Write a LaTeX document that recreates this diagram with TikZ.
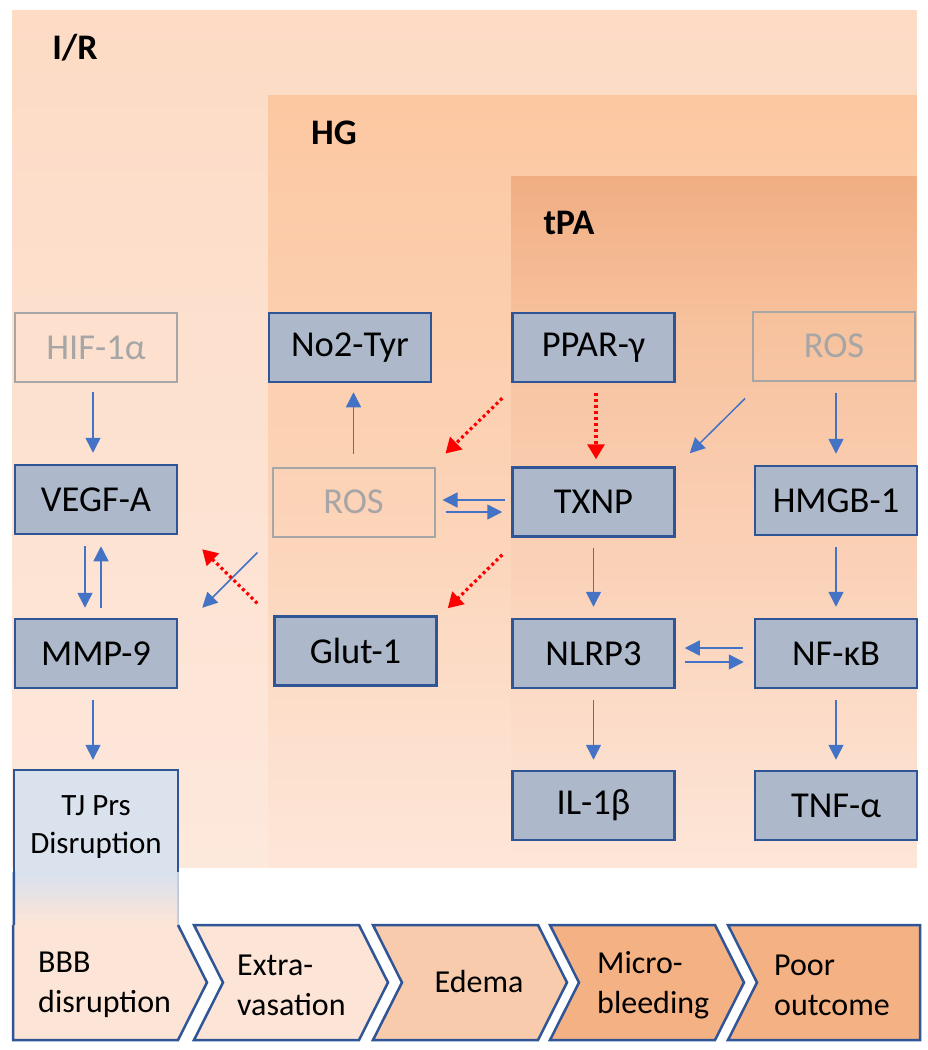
\documentclass[tikz,border=0pt]{standalone}
\usepackage{fontspec}
\setmainfont{Carlito}
\usetikzlibrary{arrows.meta,calc}
\definecolor{bbord}{HTML}{2F5597}
\definecolor{bfill}{HTML}{ADB9CA}
\definecolor{gbord}{HTML}{A6A6A6}
\definecolor{gtext}{HTML}{A6A6A6}
\definecolor{arblue}{HTML}{4472C4}
\definecolor{arred}{HTML}{FF0000}
\definecolor{irtop}{HTML}{FDDBC5}
\definecolor{irbot}{HTML}{FDE8DC}
\definecolor{hgtop}{HTML}{FCC8A2}
\definecolor{hgmid}{HTML}{FCD3B7}
\definecolor{hgbot}{HTML}{FDE6D8}
\definecolor{tpatop}{HTML}{F1AE83}
\definecolor{tpaA}{HTML}{F7C29E}
\definecolor{tpaB}{HTML}{FACDB1}
\definecolor{tpabot}{HTML}{FDE6D8}
\definecolor{tjfill}{HTML}{DAE2EE}
\definecolor{chA}{HTML}{FCE4D6}
\definecolor{chB}{HTML}{F8CBAD}
\definecolor{chC}{HTML}{F4B183}
% vertical gradient made of thin strips: x1,x2,y1,y2,topcolour,bottomcolour,strips
\newcommand\vgradfill[7]{%
  \foreach \k in {1,...,#7}{%
    \pgfmathsetmacro\pp{100-(\k-1)/(#7-1)*100}%
    \pgfmathsetmacro\ya{#3+(#4-#3)/#7*(\k-1)}%
    \pgfmathsetmacro\yb{min(#4,#3+(#4-#3)/#7*\k+0.7)}%
    \fill[#5!\pp!#6] (#1,\ya) rectangle (#2,\yb);
  }}
\begin{document}
\begin{tikzpicture}[x=1pt,y=-1pt,
  box/.style={draw=bbord,line width=2.5pt,fill=bfill,minimum width=162pt,minimum height=69pt,inner sep=0pt,font=\fontsize{36.5}{40}\selectfont},
  gbox/.style={draw=gbord,line width=2pt,minimum width=162pt,minimum height=69pt,inner sep=0pt,text=gtext,font=\fontsize{36.5}{40}\selectfont},
  arr/.style={draw=arblue,line width=1.5pt,-{Triangle[length=15pt,width=15pt]}},
  redarr/.style={draw=arred,line width=3.2pt,dash pattern=on 3pt off 3pt,-{Triangle[length=15pt,width=17pt]}},
  head/.style={font=\fontsize{36}{40}\selectfont\bfseries,inner sep=0pt},
  chev/.style={draw=bbord,line width=2.5pt,line join=miter},
  chtext/.style={font=\fontsize{32}{40}\selectfont,align=left,inner sep=0pt,anchor=west}
]
\useasboundingbox (0,0) rectangle (928,1050);
\fill[white] (0,0) rectangle (928,1050);
% backgrounds
\vgradfill{12}{917}{10}{868}{irtop}{irbot}{80}
\vgradfill{268}{917}{95}{500}{hgtop}{hgmid}{50}
\vgradfill{268}{917}{500}{868}{hgmid}{hgbot}{50}
\vgradfill{511}{917}{176}{330}{tpatop}{tpaA}{30}
\vgradfill{511}{917}{330}{500}{tpaA}{tpaB}{30}
\vgradfill{511}{917}{500}{868}{tpaB}{tpabot}{50}
\node[head] (ir) at (75,48) {I/R};
\node[head] (hg) at (334,133) {HG};
\node[head] (tpa) at (569,223) {tPA};

% boxes
\node[gbox] (hif) at (96,347.5) {HIF-1α};
\node[box] (no2) at (350,347.5) {No2-Tyr};
\node[box] (ppar) at (593.5,347.5) {PPAR-γ};
\node[gbox] (rost) at (834,346) {ROS};
\node[box] (vegf) at (96,499.5) {VEGF-A};
\node[gbox] (rosm) at (353.5,502) {ROS};
\node[box] (txnp) at (593.5,502) {TXNP};
\node[box] (hmgb) at (836,500.5) {HMGB-1};
\node[box] (mmp) at (96,653.5) {MMP-9};
\node[box] (glut) at (355.5,651) {Glut-1};
\node[box] (nlrp) at (593.5,653.5) {NLRP3};
\node[box] (nfkb) at (836,653.5) {NF-κB};
\node[box] (il1b) at (593.5,805.5) {IL-1β};
\node[box] (tnf) at (836,805.5) {TNF-α};

% TJ box
\vgradfill{14}{178}{872}{925}{tjfill}{chA}{20}
\node[fill=tjfill,inner sep=0pt,font=\fontsize{31}{38}\selectfont] (tj) at (96,821)
  {\parbox[c][102pt][c]{164pt}{\centering\vspace*{12pt}TJ Prs\\Disruption}};
\draw[bbord,line width=2.5pt] (tj.south west) -- (tj.north west) -- (tj.north east) -- (tj.south east);
\draw[bbord,line width=2.5pt] (tj.south west) -- (14,926);
\draw[bbord!50,line width=1pt] (tj.south east) -- (178,925);

% chevrons
\fill[chA] (13,925) -- (13,1040) -- (178,1040) -- (207,982.5) -- (178,925) -- cycle;
\draw[chev] (13,925) -- (13,1040) -- (178,1040) -- (207,982.5) -- (178,925);
\draw[chev,fill=chA] (194,925) -- (359,925) -- (388,982.5) -- (359,1040) -- (194,1040) -- (223,982.5) -- cycle;
\draw[chev,fill=chB] (373,925) -- (538,925) -- (567,982.5) -- (538,1040) -- (373,1040) -- (402,982.5) -- cycle;
\draw[chev,fill=chC] (550,925) -- (715,925) -- (744,982.5) -- (715,1040) -- (550,1040) -- (579,982.5) -- cycle;
\draw[chev,fill=chC] (728,925) -- (920,925) -- (920,1040) -- (728,1040) -- (757,982.5) -- cycle;
\node[chtext] (c1) at (38,985) {BBB\\disruption};
\node[chtext] (c2) at (237,985) {Extra-\\vasation};
\node[chtext,anchor=center] (c3) at (479,981) {Edema};
\node[chtext] (c4) at (597,985) {Micro-\\bleeding};
\node[chtext] (c5) at (774,985) {Poor\\outcome};

% blue arrows
\draw[arr,shorten <=9pt,shorten >=11pt] ([xshift=-3pt]hif.south) -- ([xshift=-3pt]vegf.north);
\draw[arr,shorten <=11pt,shorten >=10pt] ([xshift=-11pt]vegf.south) -- ([xshift=-11pt]mmp.north);
\draw[arr,shorten <=10pt,shorten >=11pt] ([xshift=5pt]mmp.north) -- ([xshift=5pt]vegf.south);
\draw[arr,shorten <=11pt,shorten >=10pt] ([xshift=-3pt]mmp.south) -- ([xshift=-3pt]tj.north);
\draw[arr,shorten <=13pt,shorten >=9pt] (rosm.north) -- (rosm.north |- no2.south);
\draw[arr,shorten <=6pt,shorten >=7pt] ([yshift=2pt]txnp.west) -- ([yshift=2pt]rosm.east);
\draw[arr,shorten <=10pt,shorten >=9pt] ([yshift=-10pt]rosm.east) -- ([yshift=-10pt]txnp.west);
\draw[arr] ([xshift=-14pt,yshift=-15pt]rosm.south west) -- ([xshift=24pt,yshift=10pt]mmp.north east);
\draw[arr] ([xshift=-7pt,yshift=-17pt]rost.south west) -- ([xshift=14pt,yshift=13pt]txnp.north east);
\draw[arr,shorten <=11pt,shorten >=11pt] (hmgb.north |- rost.south) -- (hmgb.north);
\draw[arr,shorten <=10pt,shorten >=11pt] (txnp.south) -- (nlrp.north);
\draw[arr,shorten <=11pt,shorten >=11pt] (hmgb.south) -- (nfkb.north);
\draw[arr,shorten <=11pt,shorten >=9pt] ([yshift=5.5pt]nfkb.west) -- ([yshift=5.5pt]nlrp.east);
\draw[arr,shorten <=9pt,shorten >=10pt] ([yshift=-8.5pt]nlrp.east) -- ([yshift=-8.5pt]nfkb.west);
\draw[arr,shorten <=11pt,shorten >=10pt] (nlrp.south) -- (il1b.north);
\draw[arr,shorten <=11pt,shorten >=10pt] (nfkb.south) -- (tnf.north);

% red dotted arrows
\draw[redarr,shorten <=10pt,shorten >=7pt] ([xshift=2.5pt]ppar.south) -- ([xshift=2.5pt]txnp.north);
\draw[redarr] ([xshift=-9pt,yshift=-15pt]ppar.south west) -- ([xshift=10pt,yshift=13pt]rosm.north east);
\draw[redarr] ([xshift=-9pt,yshift=-17pt]txnp.south west) -- ([xshift=10pt,yshift=7pt]glut.north east);
\draw[redarr] ([xshift=-16pt,yshift=12pt]glut.north west) -- ([xshift=24pt,yshift=-14pt]vegf.south east);
\end{tikzpicture}
\end{document}
